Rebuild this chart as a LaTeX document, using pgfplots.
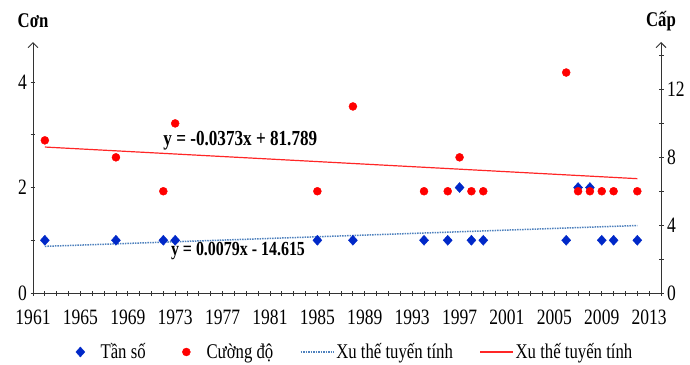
\documentclass[border=0pt]{standalone}
\usepackage{pgfplots}
\pgfplotsset{compat=1.18}
\usepackage{fontspec}
\setmainfont{Liberation Serif}[FakeStretch=0.8]
\usetikzlibrary{arrows.meta,calc}
\definecolor{dblue}{RGB}{0,40,200}
\definecolor{tblue}{RGB}{79,129,189}
\definecolor{dred}{RGB}{255,0,0}
\begin{document}
\begin{tikzpicture}
\pgfplotsset{
  common/.style={
    scale only axis, width=628bp, height=251bp,
    xmin=1961, xmax=2014,
    tick align=outside,
    major tick length=5bp, minor tick length=5bp,
    every tick/.style={black!80, line width=0.8bp},
    ticklabel style={font=\fontsize{22}{22}\selectfont},
    /pgf/number format/assume math mode=true,
    /pgf/number format/1000 sep={},
    axis line style={black!80, line width=0.9bp},
    clip=false,
  },
  linelegend/.style={legend image code/.code={\draw[##1] (0bp,0bp) -- (33bp,0bp);}},
  marklegendA/.style={legend image code/.code={\path (0bp,0bp) (28bp,0bp); \draw[##1] plot coordinates {(10bp,0bp)};}},
  marklegendB/.style={legend image code/.code={\path (0bp,0bp) (32bp,0bp); \draw[##1] plot coordinates {(14bp,0bp)};}},
}
\begin{axis}[common,
  axis x line=bottom, axis y line=left,
  x axis line style={-},
  y axis line style={-{Straight Barb[length=5bp,width=10bp]}},
  xticklabel style={yshift=-11bp},
  ymin=0, ymax=4.76,
  xtick={1961,1965,...,2013},
  minor xtick={1961,...,2014},
  ytick={0,2,4}, minor ytick={1,3},
  legend columns=4,
  legend style={at={(0.0589,-0.235)}, anchor=west, draw=none, fill=none, inner sep=0pt,
    font=\fontsize{21}{21}\selectfont,
    /tikz/every even column/.append style={column sep=24.5bp},
    /tikz/every odd column/.append style={column sep=0bp}},
  legend cell align=left,
]
\coordinate (O) at (rel axis cs:0,0);
\addplot[only marks, mark=diamond*, mark size=5bp, color=dblue, mark options={xscale=1.2}, marklegendA]
  coordinates {(1962,1) (1968,1) (1972,1) (1973,1) (1985,1) (1988,1) (1994,1) (1996,1)
  (1997,2) (1998,1) (1999,1) (2006,1) (2007,2) (2008,2) (2009,1) (2010,1) (2012,1)};
\addlegendentry{Tần số}
\addlegendimage{only marks, mark=*, mark size=4bp, color=dred, marklegendB}
\addlegendentry{Cường độ}
\addplot[tblue, line width=1.5bp, dash pattern=on 1.5bp off 1bp, linelegend]
  coordinates {(1962,0.8848) (2012,1.2798)};
\addlegendentry{Xu thế tuyến tính}
\addlegendimage{dred!85, line width=1.2bp, linelegend}
\addlegendentry{Xu thế tuyến tính}
\node[font=\bfseries\fontsize{21}{21}\selectfont, anchor=base] at (rel axis cs:0,1) [yshift=15bp] {Cơn};
\node[font=\bfseries\fontsize{21.5}{21.5}\selectfont] at (axis cs:1978.5,2.88) {y = -0.0373x + 81.789};
\node[font=\bfseries\fontsize{20}{20}\selectfont] at (axis cs:1978.3,0.8) {y = 0.0079x - 14.615};
\end{axis}
\begin{axis}[common,
  axis x line=none, axis y line=right,
  y axis line style={-{Straight Barb[length=5bp,width=10bp]}},
  ymin=0, ymax=14.8,
  ytick={0,4,8,12}, minor ytick={2,6,10,14},
]
\addplot[dred!85, line width=1.2bp] coordinates {(1962,8.6064) (2012,6.7414)};
\addplot[only marks, mark=*, mark size=4bp, color=dred]
  coordinates {(1962,9) (1968,8) (1972,6) (1973,10) (1985,6) (1988,11) (1994,6) (1996,6)
  (1997,8) (1998,6) (1999,6) (2006,13) (2007,6) (2008,6) (2009,6) (2010,6) (2012,6)};
\node[font=\bfseries\fontsize{21}{21}\selectfont, anchor=base] at (rel axis cs:1,1) [yshift=15bp] {Cấp};
\end{axis}
\pgfresetboundingbox
\path[use as bounding box] ($(O)+(-33bp,-72bp)$) rectangle ($(O)+(657bp,293bp)$);
\end{tikzpicture}
\end{document}
